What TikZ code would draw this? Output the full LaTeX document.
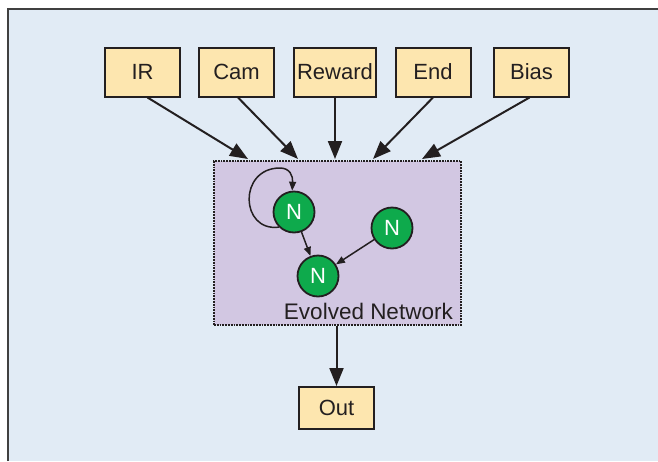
\documentclass[tikz,border=0pt]{standalone}
\usepackage{fontspec}
\setmainfont{Liberation Sans}
\usetikzlibrary{arrows.meta,calc}

\definecolor{panelblue}{HTML}{E1EBF5}
\definecolor{inbox}{HTML}{FDE6AF}
\definecolor{netfill}{HTML}{D2C7E2}
\definecolor{neurongreen}{HTML}{0EAA4C}
\definecolor{ink}{HTML}{231F20}

\tikzset{
  signalbox/.style={draw=ink, line width=2pt, fill=inbox, minimum height=49pt,
    minimum width=75pt, inner xsep=3pt, font=\fontsize{22}{26}\selectfont, text=ink},
  neuron/.style={circle, draw=ink, line width=1.8pt, fill=neurongreen, minimum size=41pt,
    inner sep=0pt, text=white, font=\fontsize{22}{26}\selectfont},
  bigarrow/.style={draw=ink, line width=2pt, -{Triangle[length=18pt,width=14pt]}},
  smallarrow/.style={draw=ink, line width=1.5pt, -{Triangle[length=9pt,width=7pt]}},
}

\begin{document}
\begin{tikzpicture}[x=1pt,y=-1pt]
  \useasboundingbox (0,0) rectangle (658,461);

  % panel background with its left and top rule
  \fill[panelblue] (8,9) rectangle (658,461);
  \draw[draw=black!75, line width=1.8pt] (8,461) -- (8,9) -- (658,9);

  % evolved network area
  \node[draw=ink, densely dotted, line width=1.8pt, fill=netfill,
        minimum width=247pt, minimum height=164pt, inner sep=0pt] (net) at (337.5,243) {};
  \node[anchor=south east, font=\fontsize{22.5}{26}\selectfont, text=ink, inner sep=0pt]
        (netlabel) at (453,320) {Evolved Network};

  % input signals
  \node[signalbox] (ir)     at (142.5,72) {IR};
  \node[signalbox] (cam)    at (236.5,72) {Cam};
  \node[signalbox] (reward) at (335,72)   {Reward};
  \node[signalbox] (end)    at (433,72)   {End};
  \node[signalbox] (bias)   at (531.5,72) {Bias};

  % output
  \node[signalbox, minimum height=42pt] (out) at (336.5,408) {Out};

  % entry points on the top edge of the network
  \coordinate (t1) at (248,159);
  \coordinate (t2) at (298,159);
  \coordinate (t3) at (335,159);
  \coordinate (t4) at (373,159);
  \coordinate (t5) at (422,159);

  \draw[bigarrow] ([xshift=5pt]ir.south) -- (t1);
  \draw[bigarrow] ([xshift=1.5pt]cam.south) -- (t2);
  \draw[bigarrow] (reward.south) -- (t3);
  \draw[bigarrow] (end.south) -- (t4);
  \draw[bigarrow] ([xshift=-2pt]bias.south) -- (t5);

  \draw[bigarrow] (net.south -| out.north) -- (out.north);

  % neurons
  \node[neuron] (n1) at (294,212) {N};
  \node[neuron] (n2) at (392,228) {N};
  \node[neuron] (n3) at (318,276) {N};

  \draw[smallarrow] (n1) -- (n3);
  \draw[smallarrow] (n2) -- (n3);
  \draw[smallarrow] (n1.225) .. controls (240,232) and (238,168) .. (280,168)
        .. controls (290,168) and (293,176) .. (n1.95);
\end{tikzpicture}
\end{document}
